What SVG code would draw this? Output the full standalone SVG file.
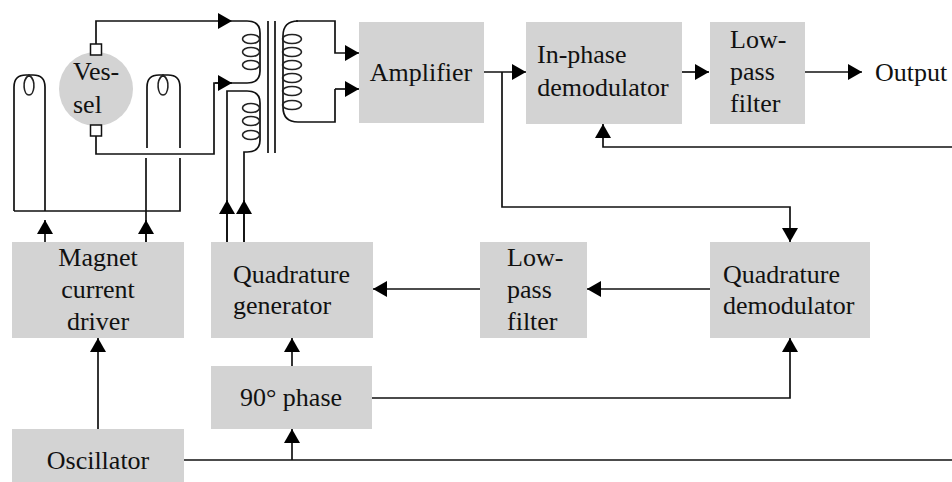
<svg xmlns="http://www.w3.org/2000/svg" width="952" height="482" viewBox="0 0 952 482">
<defs><marker id="a" markerUnits="userSpaceOnUse" markerWidth="16" markerHeight="16" refX="14" refY="8" orient="auto"><path d="M0,0 L14,8 L0,16 Z" fill="#000"/></marker></defs>
<style>
.b{fill:#d3d3d3}
.t{font-family:"Liberation Serif","Times New Roman",serif;font-size:26px;fill:#111;text-anchor:middle}
.s{text-anchor:start}
.l{fill:none;stroke:#111;stroke-width:1.7}
.c{fill:none;stroke:#222;stroke-width:1.6}
.m{marker-end:url(#a)}
</style>
<rect width="952" height="482" fill="#fff"/>
<g id="connectors">
<path class="l m" d="M96 44V21H232"/>
<path class="l" d="M232 21H247Q260 21 260 33V71Q260 83 247 83H215"/>
<path class="l m" d="M96 136V154H214V83H232"/>
<path class="l" d="M227 242V91H247Q260 91 260 103V140Q260 152 247 152H244V242"/>
<path class="l" d="M268 21V153M275 21V153"/>
<path class="l m" d="M296 21H335V53H359"/>
<path class="l" d="M298 21Q283 21 283 36V107Q283 122 298 122H335V89"/>
<path class="l m" d="M335 89H359"/>
<path class="l" d="M14 211V87Q14 75 26 75H33Q45 75 45 87V211M147 148V87Q147 75 159 75H168Q180 75 180 87V148M180 158V211H14"/>
<path class="l" d="M146 158V242"/>
<path class="c" d="M29 75C21 81 24 95 29 95C34 95 37 81 29 75ZM163 75C155 81 158 95 163 95C168 95 171 81 163 75Z"/>
<g class="c"><ellipse cx="251" cy="39" rx="8.500" ry="4.500"/><ellipse cx="251" cy="52" rx="8.500" ry="4.500"/><ellipse cx="251" cy="65" rx="8.500" ry="4.500"/><ellipse cx="251" cy="108" rx="8.500" ry="4.500"/><ellipse cx="251" cy="121" rx="8.500" ry="4.500"/><ellipse cx="251" cy="135" rx="8.500" ry="4.500"/><ellipse cx="292" cy="39" rx="9.500" ry="4.500"/><ellipse cx="292" cy="52" rx="9.500" ry="4.500"/><ellipse cx="292" cy="65" rx="9.500" ry="4.500"/><ellipse cx="292" cy="78" rx="9.500" ry="4.500"/><ellipse cx="292" cy="91" rx="9.500" ry="4.500"/><ellipse cx="292" cy="105" rx="9.500" ry="4.500"/></g>
<path class="l m" d="M45 242V220"/>
<path class="l m" d="M146 242V220"/>
<path class="l m" d="M227 242V200"/>
<path class="l m" d="M244 242V200"/>
<path class="l m" d="M483 72H526"/>
<path class="l m" d="M682 72H709"/>
<path class="l m" d="M805 72H862"/>
<path class="l m" d="M952 147H603V124"/>
<path class="l m" d="M502 72V207H790V242"/>
<path class="l m" d="M710 289H587"/>
<path class="l m" d="M480 289H373"/>
<path class="l m" d="M292 366V338"/>
<path class="l m" d="M372 398H790V338"/>
<path class="l" d="M184 460H952"/>
<path class="l m" d="M292 460V429"/>
<path class="l m" d="M98 429V338"/>
</g>
<g id="vessel"><circle cx="96" cy="89" r="37" class="b"/><rect x="90.500" y="44" width="11" height="11" fill="#fff" stroke="#111" stroke-width="1.500"/><rect x="90.500" y="125" width="11" height="11" fill="#fff" stroke="#111" stroke-width="1.500"/><text class="t s" x="73" y="80">Ves-</text><text class="t s" x="73" y="113">sel</text></g>
<g id="amplifier"><rect class="b" x="359" y="22" width="125" height="101"/><text class="t" x="421" y="81">Amplifier</text></g>
<g id="inphase"><rect class="b" x="526" y="22" width="156" height="102"/><text class="t s" x="537" y="63">In-phase</text><text class="t" x="603" y="96">demodulator</text></g>
<g id="lpf1"><rect class="b" x="710" y="22" width="95" height="102"/><text class="t s" x="730" y="48">Low-</text><text class="t s" x="730" y="80">pass</text><text class="t s" x="730" y="112">filter</text></g>
<g id="output"><text class="t s" x="875" y="81">Output</text></g>
<g id="driver"><rect class="b" x="12" y="242" width="172" height="96"/><text class="t" x="98" y="266">Magnet</text><text class="t" x="98" y="298">current</text><text class="t" x="98" y="330">driver</text></g>
<g id="quadgen"><rect class="b" x="211" y="242" width="162" height="96"/><text class="t s" x="233" y="283">Quadrature</text><text class="t s" x="233" y="314">generator</text></g>
<g id="lpf2"><rect class="b" x="480" y="242" width="107" height="96"/><text class="t s" x="507" y="266">Low-</text><text class="t s" x="507" y="298">pass</text><text class="t s" x="507" y="330">filter</text></g>
<g id="quaddem"><rect class="b" x="710" y="242" width="160" height="96"/><text class="t s" x="723" y="283">Quadrature</text><text class="t s" x="723" y="314">demodulator</text></g>
<g id="phase"><rect class="b" x="211" y="366" width="161" height="63"/><text class="t" x="291" y="406">90° phase</text></g>
<g id="oscillator"><rect class="b" x="12" y="429" width="172" height="53"/><text class="t" x="98" y="469">Oscillator</text></g>
</svg>
